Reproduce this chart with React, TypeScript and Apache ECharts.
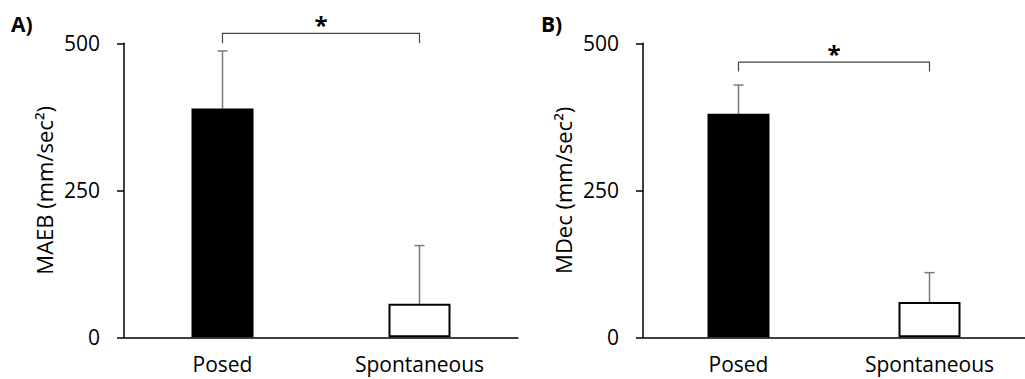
import React, { useEffect, useRef } from "react";
import * as echarts from "echarts";

const categories = ["Posed", "Spontaneous"];
const maebMean = [389, 57];
const maebErr = [98, 99];
const mdecMean = [380, 60];
const mdecErr = [49, 50];
// bracket: [fromIndex, toIndex, barY, tickBottomY]
const bracketA = [0, 1, 517, 500];
const bracketB = [0, 1, 468, 452];

const FONT = "'Open Sans', 'Noto Sans', sans-serif";
const FS = 21;

function barData(means: number[]) {
  return means.map((v, i) => ({
    value: v,
    itemStyle:
      i === 0
        ? { color: "#000", borderColor: "#000", borderWidth: 2 }
        : { color: "#fff", borderColor: "#000", borderWidth: 2 },
  }));
}

function errorSeries(means: number[], errs: number[], idx: number) {
  return {
    type: "custom",
    xAxisIndex: idx,
    yAxisIndex: idx,
    z: 1,
    data: means.map((m, i) => [i, m, m + errs[i]]),
    renderItem: (params: any, api: any) => {
      const x = api.value(0);
      const p0 = api.coord([x, api.value(1)]);
      const p1 = api.coord([x, api.value(2)]);
      const style = { stroke: "#7a7a7a", lineWidth: 1.5 };
      return {
        type: "group",
        children: [
          { type: "line", shape: { x1: p0[0], y1: p0[1], x2: p1[0], y2: p1[1] }, style },
          { type: "line", shape: { x1: p1[0] - 5, y1: p1[1], x2: p1[0] + 5, y2: p1[1] }, style },
        ],
      };
    },
  };
}

function bracketSeries(b: number[], idx: number) {
  return {
    type: "custom",
    xAxisIndex: idx,
    yAxisIndex: idx,
    z: 5,
    data: [b],
    renderItem: (params: any, api: any) => {
      const a = api.coord([api.value(0), api.value(2)]);
      const c = api.coord([api.value(1), api.value(2)]);
      const bot = api.coord([api.value(0), api.value(3)]);
      const style = { stroke: "#444", lineWidth: 1.2, fill: "none" };
      return {
        type: "group",
        children: [
          {
            type: "polyline",
            shape: { points: [[a[0], bot[1]], [a[0], a[1]], [c[0], c[1]], [c[0], bot[1]]] },
            style,
          },
          {
            type: "text",
            x: (a[0] + c[0]) / 2,
            y: a[1] + 3,
            style: {
              text: "*",
              fill: "#000",
              font: `bold 24px ${FONT}`,
              align: "center",
              verticalAlign: "bottom",
            },
          },
        ],
      };
    },
  };
}

function yAxis(name: string, idx: number) {
  return {
    type: "value",
    gridIndex: idx,
    min: 0,
    max: 500,
    interval: 250,
    name,
    nameLocation: "middle",
    nameGap: 69,
    nameTextStyle: { fontSize: FS + 1, color: "#000", fontFamily: FONT },
    axisLine: { show: true, lineStyle: { color: "#000", width: 1.5 } },
    axisTick: { show: true, length: 7, lineStyle: { color: "#000", width: 1.5 } },
    axisLabel: { fontSize: FS, color: "#000", fontFamily: FONT, margin: 24 },
    splitLine: { show: false },
  };
}

function xAxis(idx: number) {
  return {
    type: "category",
    gridIndex: idx,
    data: categories,
    axisLine: { show: true, lineStyle: { color: "#000", width: 1.5 } },
    axisTick: { show: false },
    axisLabel: { fontSize: FS, lineHeight: FS, color: "#000", fontFamily: FONT, margin: 16 },
  };
}

export default function App() {
  const ref = useRef<HTMLDivElement>(null);
  useEffect(() => {
    document.body.style.margin = "0";
    const chart = echarts.init(ref.current!, null, { renderer: "svg" });
    chart.setOption({
      animation: false,
      backgroundColor: "#fff",
      textStyle: { fontFamily: FONT },
      grid: [
        { left: 124, right: 507, top: 43.3, bottom: 41.7 },
        { left: 643, right: -11, top: 43.3, bottom: 41.7 },
      ],
      xAxis: [xAxis(0), xAxis(1)],
      yAxis: [yAxis("MAEB (mm/sec²)", 0), yAxis("MDec (mm/sec²)", 1)],
      graphic: [
        { type: "text", left: 11, top: 13, style: { text: "A)", font: `bold 21px ${FONT}`, fill: "#000" } },
        { type: "text", left: 541, top: 13, style: { text: "B)", font: `bold 21px ${FONT}`, fill: "#000" } },
      ],
      series: [
        { type: "bar", xAxisIndex: 0, yAxisIndex: 0, barWidth: 62, data: barData(maebMean), z: 2 },
        errorSeries(maebMean, maebErr, 0),
        bracketSeries(bracketA, 0),
        { type: "bar", xAxisIndex: 1, yAxisIndex: 1, barWidth: 62, data: barData(mdecMean), z: 2 },
        errorSeries(mdecMean, mdecErr, 1),
        bracketSeries(bracketB, 1),
      ],
    });
    return () => chart.dispose();
  }, []);
  return <div ref={ref} style={{ width: 1025, height: 379 }} />;
}
